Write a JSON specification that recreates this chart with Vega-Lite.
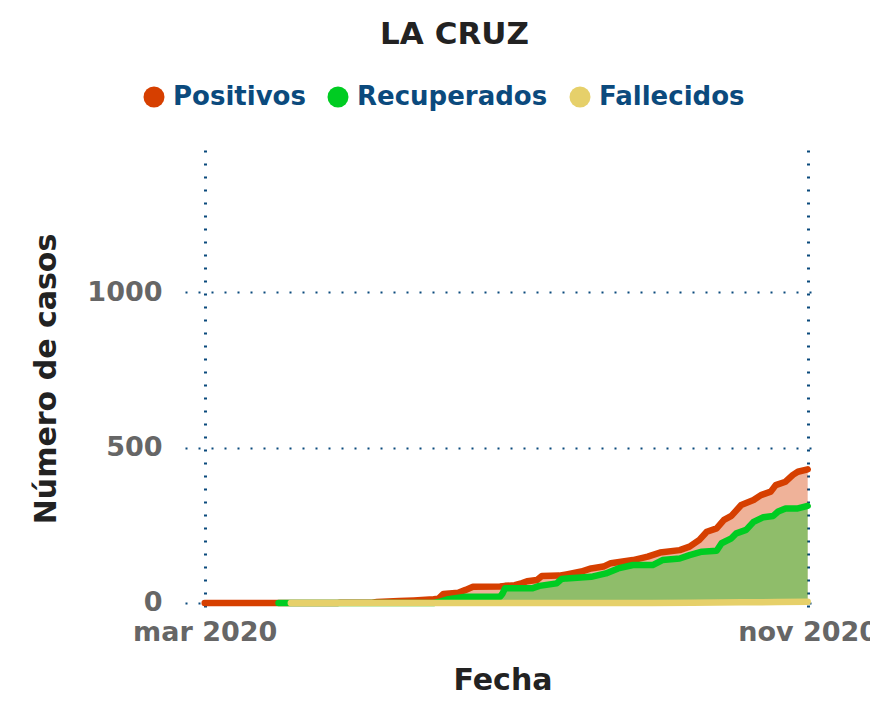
{
  "$schema": "https://vega.github.io/schema/vega-lite/v6.json",
  "autosize": "none",
  "width": 635,
  "height": 457,
  "padding": {"left": 185, "top": 150, "right": 50, "bottom": 100},
  "background": "white",
  "title": {
    "text": "LA CRUZ",
    "font": "DejaVu Sans",
    "fontSize": 31,
    "fontWeight": "bold",
    "color": "#222222",
    "anchor": "middle",
    "frame": "group",
    "dx": -48,
    "dy": -29
  },
  "datasets": {
    "casos": [
      {"fecha": "2020-03-01", "serie": "Positivos", "casos": 0},
      {"fecha": "2020-04-24", "serie": "Positivos", "casos": 0},
      {"fecha": "2020-04-25", "serie": "Positivos", "casos": 1},
      {"fecha": "2020-05-08", "serie": "Positivos", "casos": 1},
      {"fecha": "2020-05-10", "serie": "Positivos", "casos": 3},
      {"fecha": "2020-05-19", "serie": "Positivos", "casos": 6},
      {"fecha": "2020-05-25", "serie": "Positivos", "casos": 8},
      {"fecha": "2020-06-02", "serie": "Positivos", "casos": 12},
      {"fecha": "2020-06-04", "serie": "Positivos", "casos": 14},
      {"fecha": "2020-06-06", "serie": "Positivos", "casos": 29},
      {"fecha": "2020-06-12", "serie": "Positivos", "casos": 33},
      {"fecha": "2020-06-15", "serie": "Positivos", "casos": 42},
      {"fecha": "2020-06-18", "serie": "Positivos", "casos": 52},
      {"fecha": "2020-06-29", "serie": "Positivos", "casos": 53},
      {"fecha": "2020-07-01", "serie": "Positivos", "casos": 55},
      {"fecha": "2020-07-05", "serie": "Positivos", "casos": 57},
      {"fecha": "2020-07-08", "serie": "Positivos", "casos": 64},
      {"fecha": "2020-07-10", "serie": "Positivos", "casos": 70},
      {"fecha": "2020-07-14", "serie": "Positivos", "casos": 74},
      {"fecha": "2020-07-16", "serie": "Positivos", "casos": 87},
      {"fecha": "2020-07-23", "serie": "Positivos", "casos": 88},
      {"fecha": "2020-07-26", "serie": "Positivos", "casos": 92},
      {"fecha": "2020-08-01", "serie": "Positivos", "casos": 101},
      {"fecha": "2020-08-05", "serie": "Positivos", "casos": 111},
      {"fecha": "2020-08-10", "serie": "Positivos", "casos": 117},
      {"fecha": "2020-08-13", "serie": "Positivos", "casos": 128},
      {"fecha": "2020-08-22", "serie": "Positivos", "casos": 138},
      {"fecha": "2020-08-28", "serie": "Positivos", "casos": 149},
      {"fecha": "2020-09-02", "serie": "Positivos", "casos": 162},
      {"fecha": "2020-09-10", "serie": "Positivos", "casos": 170},
      {"fecha": "2020-09-14", "serie": "Positivos", "casos": 181},
      {"fecha": "2020-09-18", "serie": "Positivos", "casos": 203},
      {"fecha": "2020-09-21", "serie": "Positivos", "casos": 229},
      {"fecha": "2020-09-25", "serie": "Positivos", "casos": 240},
      {"fecha": "2020-09-28", "serie": "Positivos", "casos": 267},
      {"fecha": "2020-10-01", "serie": "Positivos", "casos": 280},
      {"fecha": "2020-10-05", "serie": "Positivos", "casos": 315},
      {"fecha": "2020-10-10", "serie": "Positivos", "casos": 331},
      {"fecha": "2020-10-13", "serie": "Positivos", "casos": 347},
      {"fecha": "2020-10-17", "serie": "Positivos", "casos": 358},
      {"fecha": "2020-10-19", "serie": "Positivos", "casos": 379},
      {"fecha": "2020-10-23", "serie": "Positivos", "casos": 390},
      {"fecha": "2020-10-26", "serie": "Positivos", "casos": 412},
      {"fecha": "2020-10-28", "serie": "Positivos", "casos": 422},
      {"fecha": "2020-11-01", "serie": "Positivos", "casos": 430},
      {"fecha": "2020-03-31", "serie": "Recuperados", "casos": 0},
      {"fecha": "2020-06-02", "serie": "Recuperados", "casos": 0},
      {"fecha": "2020-06-05", "serie": "Recuperados", "casos": 5},
      {"fecha": "2020-06-08", "serie": "Recuperados", "casos": 12},
      {"fecha": "2020-06-15", "serie": "Recuperados", "casos": 20},
      {"fecha": "2020-06-29", "serie": "Recuperados", "casos": 20},
      {"fecha": "2020-06-30", "serie": "Recuperados", "casos": 30},
      {"fecha": "2020-07-01", "serie": "Recuperados", "casos": 47},
      {"fecha": "2020-07-12", "serie": "Recuperados", "casos": 47},
      {"fecha": "2020-07-15", "serie": "Recuperados", "casos": 55},
      {"fecha": "2020-07-22", "serie": "Recuperados", "casos": 63},
      {"fecha": "2020-07-24", "serie": "Recuperados", "casos": 77},
      {"fecha": "2020-07-26", "serie": "Recuperados", "casos": 79},
      {"fecha": "2020-08-05", "serie": "Recuperados", "casos": 84},
      {"fecha": "2020-08-11", "serie": "Recuperados", "casos": 95},
      {"fecha": "2020-08-16", "serie": "Recuperados", "casos": 111},
      {"fecha": "2020-08-22", "serie": "Recuperados", "casos": 122},
      {"fecha": "2020-08-30", "serie": "Recuperados", "casos": 122},
      {"fecha": "2020-09-03", "serie": "Recuperados", "casos": 138},
      {"fecha": "2020-09-10", "serie": "Recuperados", "casos": 143},
      {"fecha": "2020-09-14", "serie": "Recuperados", "casos": 154},
      {"fecha": "2020-09-19", "serie": "Recuperados", "casos": 165},
      {"fecha": "2020-09-25", "serie": "Recuperados", "casos": 168},
      {"fecha": "2020-09-27", "serie": "Recuperados", "casos": 192},
      {"fecha": "2020-10-01", "serie": "Recuperados", "casos": 208},
      {"fecha": "2020-10-03", "serie": "Recuperados", "casos": 224},
      {"fecha": "2020-10-07", "serie": "Recuperados", "casos": 235},
      {"fecha": "2020-10-10", "serie": "Recuperados", "casos": 261},
      {"fecha": "2020-10-14", "serie": "Recuperados", "casos": 276},
      {"fecha": "2020-10-18", "serie": "Recuperados", "casos": 280},
      {"fecha": "2020-10-20", "serie": "Recuperados", "casos": 294},
      {"fecha": "2020-10-23", "serie": "Recuperados", "casos": 304},
      {"fecha": "2020-10-28", "serie": "Recuperados", "casos": 304},
      {"fecha": "2020-11-01", "serie": "Recuperados", "casos": 312},
      {"fecha": "2020-04-05", "serie": "Fallecidos", "casos": 0},
      {"fecha": "2020-08-30", "serie": "Fallecidos", "casos": 0},
      {"fecha": "2020-09-15", "serie": "Fallecidos", "casos": 1},
      {"fecha": "2020-10-05", "serie": "Fallecidos", "casos": 2},
      {"fecha": "2020-10-20", "serie": "Fallecidos", "casos": 3},
      {"fecha": "2020-11-01", "serie": "Fallecidos", "casos": 4}
    ]
  },
  "data": {"name": "casos"},
  "encoding": {
    "x": {
      "field": "fecha",
      "type": "temporal",
      "scale": {
        "type": "utc",
        "nice": false,
        "domain": [
          {"year": 2020, "month": 2, "date": 22, "utc": true},
          {"year": 2020, "month": 11, "date": 6, "utc": true}
        ]
      },
      "axis": {
        "title": "Fecha",
        "values": [
          {"year": 2020, "month": 3, "date": 1, "utc": true},
          {"year": 2020, "month": 11, "date": 1, "utc": true}
        ],
        "labelExpr": "lower(utcFormat(datum.value, '%b %Y'))",
        "grid": true,
        "gridDash": [2, 11],
        "gridWidth": 3,
        "gridColor": "#0b4a7d",
        "gridOpacity": 1,
        "ticks": false,
        "domain": false,
        "labelPadding": 12,
        "titlePadding": 20,
        "labelOverlap": false,
        "labelFlush": false
      }
    },
    "y": {
      "field": "casos",
      "type": "quantitative",
      "stack": null,
      "scale": {"domain": [-13, 1457], "nice": false, "zero": false},
      "axis": {
        "title": "Número de casos",
        "values": [0, 500, 1000],
        "format": "d",
        "grid": true,
        "gridDash": [2, 11],
        "gridWidth": 2,
        "gridColor": "#0b4a7d",
        "gridOpacity": 1,
        "ticks": false,
        "domain": false,
        "labelPadding": 23,
        "titlePadding": 25
      }
    },
    "color": {
      "field": "serie",
      "type": "nominal",
      "sort": ["Positivos", "Recuperados", "Fallecidos"],
      "scale": {
        "domain": ["Positivos", "Recuperados", "Fallecidos"],
        "range": ["#d63f00", "#00cc22", "#e6d06a"]
      },
      "legend": {
        "title": null,
        "orient": "none",
        "direction": "horizontal",
        "legendX": -44,
        "legendY": -66,
        "symbolType": "circle",
        "symbolSize": 440,
        "symbolStrokeWidth": 0,
        "symbolOpacity": 1,
        "labelFont": "DejaVu Sans",
        "labelFontSize": 26,
        "labelFontWeight": "bold",
        "labelColor": "#0b4a7d",
        "labelOffset": 6,
        "columnPadding": 19,
        "labelLimit": 400,
        "encode": {
          "symbols": {
            "update": {
              "fill": {"scale": "color", "field": "value"},
              "stroke": {"value": "transparent"},
              "opacity": {"value": 1}
            }
          }
        }
      }
    }
  },
  "layer": [
    {"mark": {"type": "area", "opacity": 0.4}},
    {"mark": {"type": "line", "strokeWidth": 6.5, "strokeCap": "round", "strokeJoin": "round"}}
  ],
  "config": {
    "font": "DejaVu Sans",
    "view": {"stroke": null},
    "axis": {
      "labelFont": "DejaVu Sans",
      "labelFontSize": 27,
      "labelFontWeight": "bold",
      "labelColor": "#666666",
      "titleFont": "DejaVu Sans",
      "titleFontSize": 30,
      "titleFontWeight": "bold",
      "titleColor": "#222222"
    }
  }
}
